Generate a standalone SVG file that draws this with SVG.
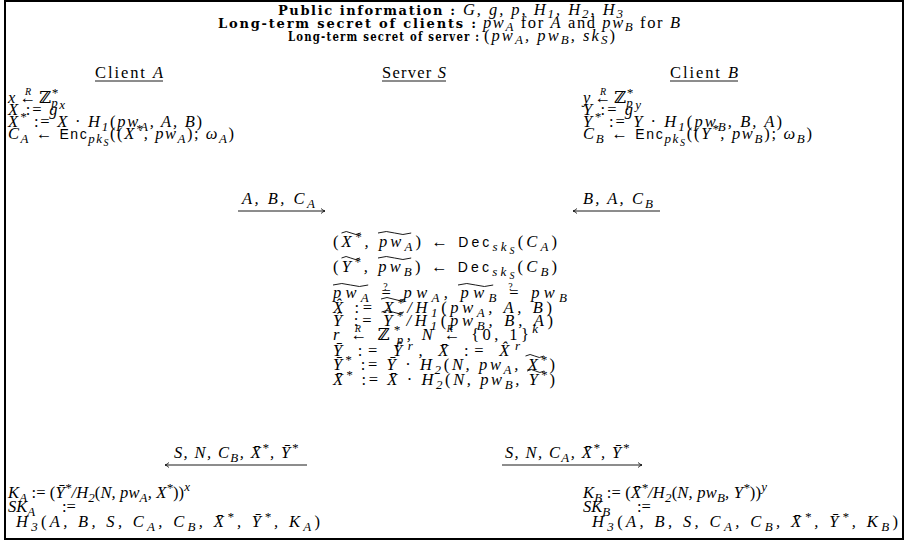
<svg xmlns="http://www.w3.org/2000/svg" width="908" height="544" viewBox="0 0 908 544">
<defs>
<style>
text { font-family: "Liberation Serif", "DejaVu Serif", serif; font-size: 16.5px; font-style: italic; fill: #000; }
.n { font-style: normal; }
.s { font-size: 13px; }
.ss { font-size: 10px; }
.ov { font-size: 10px; }
.f { font-family: "Liberation Sans", "DejaVu Sans", sans-serif; font-style: normal; font-size: 14px; }
.bd { font-family: "DejaVu Serif", serif; font-weight: bold; font-style: normal; font-size: 13px; }
.ul, .ar, .tl { stroke: #000; fill: none; stroke-width: 0.9; }
</style>
<marker id="ah" markerWidth="8" markerHeight="8" refX="5" refY="4" orient="auto" markerUnits="userSpaceOnUse">
<path d="M1,1.5 Q3,3.5 5,4 Q3,4.5 1,6.5" fill="none" stroke="#000" stroke-width="0.8"/>
</marker>
</defs>
<rect x="0" y="0" width="908" height="544" fill="#fff"/>
<rect x="5" y="1" width="898" height="538" fill="none" stroke="#000" stroke-width="2"/>

<g id="header">
<text class="bd" x="278" y="15" textLength="177" lengthAdjust="spacing">Public information :</text>
<text x="463" y="15" textLength="160" lengthAdjust="spacing">G, g, p, H<tspan class="s" dy="3">1</tspan><tspan dy="-3">, H</tspan><tspan class="s" dy="3">2</tspan><tspan dy="-3">, H</tspan><tspan class="s" dy="3">3</tspan></text>
<text class="bd" x="218" y="28" textLength="258" lengthAdjust="spacing">Long-term secret of clients :</text>
<text x="483" y="28" textLength="197" lengthAdjust="spacing">pw<tspan class="s" dy="3">A</tspan><tspan class="n" dy="-3"> for </tspan>A<tspan class="n"> and </tspan>pw<tspan class="s" dy="3">B</tspan><tspan class="n" dy="-3"> for </tspan>B</text>
<text class="bd" x="288" y="41" textLength="245" lengthAdjust="spacing" transform="translate(288 0) scale(0.78 1) translate(-288 0)">Long-term secret of server :</text>
<text x="484" y="41" textLength="131" lengthAdjust="spacing"><tspan class="n">(</tspan>pw<tspan class="s" dy="3">A</tspan><tspan dy="-3">, pw</tspan><tspan class="s" dy="3">B</tspan><tspan dy="-3">, sk</tspan><tspan class="s" dy="3">S</tspan><tspan class="n" dy="-3">)</tspan></text>
</g>

<g id="client-a">
<text x="95" y="78" textLength="68" lengthAdjust="spacing"><tspan class="n">Client </tspan>A</text>
<line class="ul" x1="95" y1="81" x2="163" y2="81"/>
<text x="8" y="103">x <tspan class="n">←</tspan><tspan class="ov" dx="-11" dy="-8">R</tspan><tspan class="n" dx="4" dy="8"> ℤ</tspan><tspan class="s" dy="-6">*</tspan><tspan class="s" dx="-6.5" dy="10">p</tspan></text>
<text x="8" y="115" textLength="57" lengthAdjust="spacing">X <tspan class="n">:=</tspan> g<tspan class="s" dy="-6">x</tspan></text>
<text x="8" y="127" textLength="194" lengthAdjust="spacing">X<tspan class="s" dy="-6">*</tspan><tspan class="n" dy="6"> := </tspan>X <tspan class="n">·</tspan> H<tspan class="s" dy="4">1</tspan><tspan class="n" dy="-4">(</tspan>pw<tspan class="s" dy="4">A</tspan><tspan dy="-4">, A, B</tspan><tspan class="n">)</tspan></text>
<text x="8" y="139" textLength="226" lengthAdjust="spacing">C<tspan class="s" dy="4">A</tspan><tspan class="n" dy="-4"> ← </tspan><tspan class="f">Enc</tspan><tspan class="s" dy="4">pk</tspan><tspan class="ss" dy="3">S</tspan><tspan class="n" dy="-7">((</tspan>X<tspan class="s" dy="-6">*</tspan><tspan dy="6">, pw</tspan><tspan class="s" dy="4">A</tspan><tspan class="n" dy="-4">); </tspan>ω<tspan class="s" dy="4">A</tspan><tspan class="n" dy="-4">)</tspan></text>
<text x="8" y="498" textLength="182" lengthAdjust="spacing">K<tspan class="s" dy="4">A</tspan><tspan class="n" dy="-4"> := (</tspan>Ȳ<tspan class="s" dy="-6">*</tspan><tspan dy="6">/H</tspan><tspan class="s" dy="4">2</tspan><tspan class="n" dy="-4">(</tspan>N, pw<tspan class="s" dy="4">A</tspan><tspan dy="-4">, X</tspan><tspan class="s" dy="-6">*</tspan><tspan class="n" dy="6">))</tspan><tspan class="s" dy="-7">x</tspan></text>
<text x="8" y="512">SK<tspan class="s" dy="4">A</tspan><tspan class="n" x="62" dy="-4">:=</tspan></text>
<text x="16" y="527" textLength="304" lengthAdjust="spacing">H<tspan class="s" dy="4">3</tspan><tspan class="n" dy="-4">(</tspan>A, B, S, C<tspan class="s" dy="4">A</tspan><tspan dy="-4">, C</tspan><tspan class="s" dy="4">B</tspan><tspan dy="-4">, X&#x304;</tspan><tspan class="s" dy="-6">*</tspan><tspan dy="6">, Ȳ</tspan><tspan class="s" dy="-6">*</tspan><tspan dy="6">, K</tspan><tspan class="s" dy="4">A</tspan><tspan class="n" dy="-4">)</tspan></text>
</g>

<g id="server">
<text x="382" y="78" textLength="64" lengthAdjust="spacing"><tspan class="n">Server </tspan>S</text>
<line class="ul" x1="382" y1="81" x2="446" y2="81"/>
<text x="333" y="247" textLength="224" lengthAdjust="spacing"><tspan class="n">(</tspan>X<tspan class="s" dy="-6">*</tspan><tspan dy="6">, pw</tspan><tspan class="s" dy="4">A</tspan><tspan class="n" dy="-4">) ← </tspan><tspan class="f">Dec</tspan><tspan class="s" dy="4">sk</tspan><tspan class="ss" dy="3">S</tspan><tspan class="n" dy="-7">(</tspan>C<tspan class="s" dy="4">A</tspan><tspan class="n" dy="-4">)</tspan></text>
<path class="tl" d="M341.5,233 q4.8,-3 9.6,0 t9.6,0"/>
<path class="tl" d="M378,233 q8.3,-3 16.6,0 t16.6,0"/>
<text x="333" y="272" textLength="224" lengthAdjust="spacing"><tspan class="n">(</tspan>Y<tspan class="s" dy="-6">*</tspan><tspan dy="6">, pw</tspan><tspan class="s" dy="4">B</tspan><tspan class="n" dy="-4">) ← </tspan><tspan class="f">Dec</tspan><tspan class="s" dy="4">sk</tspan><tspan class="ss" dy="3">S</tspan><tspan class="n" dy="-7">(</tspan>C<tspan class="s" dy="4">B</tspan><tspan class="n" dy="-4">)</tspan></text>
<path class="tl" d="M341.5,258 q4.6,-3 9.2,0 t9.2,0"/>
<path class="tl" d="M378,258 q8.3,-3 16.6,0 t16.6,0"/>
<text x="333" y="298" textLength="234" lengthAdjust="spacing">pw<tspan class="s" dy="4">A</tspan><tspan class="n" dy="-4"> = </tspan>pw<tspan class="s" dy="4">A</tspan><tspan dy="-4">, pw</tspan><tspan class="s" dy="4">B</tspan><tspan class="n" dy="-4"> = </tspan>pw<tspan class="s" dy="4">B</tspan></text>
<text class="ov n" x="385.5" y="290" text-anchor="middle">?</text>
<text class="ov n" x="510.5" y="290" text-anchor="middle">?</text>
<path class="tl" d="M333,285 q8.8,-3 17.6,0 t17.6,0"/>
<path class="tl" d="M458,285 q8.8,-3 17.6,0 t17.6,0"/>
<text x="333" y="313" textLength="219" lengthAdjust="spacing">X&#x302; <tspan class="n">:=</tspan> X<tspan class="s" dy="-6">*</tspan><tspan dy="6">/H</tspan><tspan class="s" dy="4">1</tspan><tspan class="n" dy="-4">(</tspan>pw<tspan class="s" dy="4">A</tspan><tspan dy="-4">, A, B</tspan><tspan class="n">)</tspan></text>
<path class="tl" d="M381,299 q6,-3 12,0 t12,0"/>
<text x="333" y="326" textLength="220" lengthAdjust="spacing">Ŷ <tspan class="n">:=</tspan> Y<tspan class="s" dy="-6">*</tspan><tspan dy="6">/H</tspan><tspan class="s" dy="4">1</tspan><tspan class="n" dy="-4">(</tspan>pw<tspan class="s" dy="4">B</tspan><tspan dy="-4">, B, A</tspan><tspan class="n">)</tspan></text>
<path class="tl" d="M381.5,312 q5.6,-3 11.2,0 t11.2,0"/>
<text x="333" y="340" textLength="205" lengthAdjust="spacing">r <tspan class="n">←</tspan> <tspan class="n">ℤ</tspan><tspan class="s" dy="-6">*</tspan><tspan class="s" dx="-6.5" dy="10">p</tspan><tspan dy="-4">, N </tspan><tspan class="n">←</tspan><tspan class="n"> {0, 1}</tspan><tspan class="s" dy="-7">k</tspan></text>
<text class="ov" x="357.7" y="332" text-anchor="middle">R</text>
<text class="ov" x="449.7" y="332" text-anchor="middle">R</text>
<text x="333" y="356" textLength="187" lengthAdjust="spacing">Ȳ <tspan class="n">:=</tspan> Ŷ<tspan class="s" dy="-6">r</tspan><tspan dy="6">, X&#x304; </tspan><tspan class="n">:=</tspan> X&#x302;<tspan class="s" dy="-6">r</tspan></text>
<text x="333" y="370" textLength="222" lengthAdjust="spacing">Ȳ<tspan class="s" dy="-6">*</tspan><tspan class="n" dy="6"> := </tspan>Ȳ <tspan class="n">·</tspan> H<tspan class="s" dy="4">2</tspan><tspan class="n" dy="-4">(</tspan>N, pw<tspan class="s" dy="4">A</tspan><tspan dy="-4">, X</tspan><tspan class="s" dy="-6">*</tspan><tspan class="n" dy="6">)</tspan></text>
<path class="tl" d="M525.5,356 q4.6,-3 9.2,0 t9.2,0"/>
<text x="333" y="385" textLength="222" lengthAdjust="spacing">X&#x304;<tspan class="s" dy="-6">*</tspan><tspan class="n" dy="6"> := </tspan>X&#x304; <tspan class="n">·</tspan> H<tspan class="s" dy="4">2</tspan><tspan class="n" dy="-4">(</tspan>N, pw<tspan class="s" dy="4">B</tspan><tspan dy="-4">, Y</tspan><tspan class="s" dy="-6">*</tspan><tspan class="n" dy="6">)</tspan></text>
<path class="tl" d="M527,371 q4.3,-3 8.6,0 t8.6,0"/>
</g>

<g id="client-b">
<text x="670" y="78" textLength="68" lengthAdjust="spacing"><tspan class="n">Client </tspan>B</text>
<line class="ul" x1="670" y1="81" x2="738" y2="81"/>
<text x="583" y="103">y <tspan class="n">←</tspan><tspan class="ov" dx="-11" dy="-8">R</tspan><tspan class="n" dx="4" dy="8"> ℤ</tspan><tspan class="s" dy="-6">*</tspan><tspan class="s" dx="-6.5" dy="10">p</tspan></text>
<text x="583" y="115" textLength="58" lengthAdjust="spacing">Y <tspan class="n">:=</tspan> g<tspan class="s" dy="-6">y</tspan></text>
<text x="583" y="127" textLength="199" lengthAdjust="spacing">Y<tspan class="s" dy="-6">*</tspan><tspan class="n" dy="6"> := </tspan>Y <tspan class="n">·</tspan> H<tspan class="s" dy="4">1</tspan><tspan class="n" dy="-4">(</tspan>pw<tspan class="s" dy="4">B</tspan><tspan dy="-4">, B, A</tspan><tspan class="n">)</tspan></text>
<text x="583" y="139" textLength="229" lengthAdjust="spacing">C<tspan class="s" dy="4">B</tspan><tspan class="n" dy="-4"> ← </tspan><tspan class="f">Enc</tspan><tspan class="s" dy="4">pk</tspan><tspan class="ss" dy="3">S</tspan><tspan class="n" dy="-7">((</tspan>Y<tspan class="s" dy="-6">*</tspan><tspan dy="6">, pw</tspan><tspan class="s" dy="4">B</tspan><tspan class="n" dy="-4">); </tspan>ω<tspan class="s" dy="4">B</tspan><tspan class="n" dy="-4">)</tspan></text>
<text x="583" y="498" textLength="184" lengthAdjust="spacing">K<tspan class="s" dy="4">B</tspan><tspan class="n" dy="-4"> := (</tspan>X&#x304;<tspan class="s" dy="-6">*</tspan><tspan dy="6">/H</tspan><tspan class="s" dy="4">2</tspan><tspan class="n" dy="-4">(</tspan>N, pw<tspan class="s" dy="4">B</tspan><tspan dy="-4">, Y</tspan><tspan class="s" dy="-6">*</tspan><tspan class="n" dy="6">))</tspan><tspan class="s" dy="-7">y</tspan></text>
<text x="583" y="512">SK<tspan class="s" dy="4">B</tspan><tspan class="n" x="637" dy="-4">:=</tspan></text>
<text x="592" y="527" textLength="306" lengthAdjust="spacing">H<tspan class="s" dy="4">3</tspan><tspan class="n" dy="-4">(</tspan>A, B, S, C<tspan class="s" dy="4">A</tspan><tspan dy="-4">, C</tspan><tspan class="s" dy="4">B</tspan><tspan dy="-4">, X&#x304;</tspan><tspan class="s" dy="-6">*</tspan><tspan dy="6">, Ȳ</tspan><tspan class="s" dy="-6">*</tspan><tspan dy="6">, K</tspan><tspan class="s" dy="4">B</tspan><tspan class="n" dy="-4">)</tspan></text>
</g>

<g id="connectors">
<line class="ar" x1="238" y1="211" x2="325" y2="211" marker-end="url(#ah)"/>
<text x="242" y="204" textLength="73" lengthAdjust="spacing">A, B, C<tspan class="s" dy="4">A</tspan></text>
<line class="ar" x1="660" y1="211" x2="573" y2="211" marker-end="url(#ah)"/>
<text x="583" y="204" textLength="70" lengthAdjust="spacing">B, A, C<tspan class="s" dy="4">B</tspan></text>
<line class="ar" x1="307" y1="465" x2="165" y2="465" marker-end="url(#ah)"/>
<text x="174" y="458" textLength="124" lengthAdjust="spacing">S, N, C<tspan class="s" dy="4">B</tspan><tspan dy="-4">, X&#x304;</tspan><tspan class="s" dy="-6">*</tspan><tspan dy="6">, Ȳ</tspan><tspan class="s" dy="-6">*</tspan></text>
<line class="ar" x1="502" y1="465" x2="642" y2="465" marker-end="url(#ah)"/>
<text x="505" y="458" textLength="124" lengthAdjust="spacing">S, N, C<tspan class="s" dy="4">A</tspan><tspan dy="-4">, X&#x304;</tspan><tspan class="s" dy="-6">*</tspan><tspan dy="6">, Ȳ</tspan><tspan class="s" dy="-6">*</tspan></text>
</g>
</svg>
